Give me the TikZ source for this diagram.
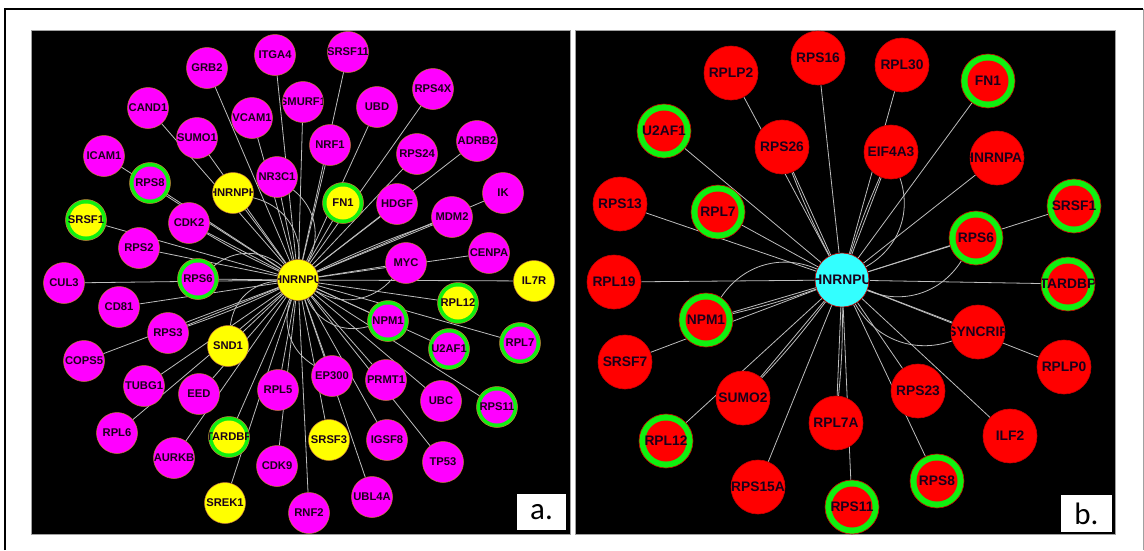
\documentclass[tikz,border=0pt]{standalone}
\usepackage{fontspec}
\setmainfont{Liberation Sans}
\newfontfamily\tagfont{Carlito}
\pgfdeclarelayer{panel}
\pgfdeclarelayer{wires}
\pgfsetlayers{panel,wires,main}

\definecolor{magA}{HTML}{FF00FF}
\definecolor{yelA}{HTML}{FFFF00}
\definecolor{ringG}{HTML}{10F010}
\definecolor{rimA}{HTML}{C87A3C}
\definecolor{redB}{HTML}{FF0000}
\definecolor{rimB}{HTML}{CC0000}
\definecolor{cyanB}{HTML}{33FFFF}
\definecolor{wire}{HTML}{BDBDBD}
\definecolor{ink}{HTML}{1A001A}
\definecolor{frameG}{HTML}{A0A0A0}

\tikzset{
  nodeA/.style={circle, minimum size=41pt, inner sep=0pt, draw=rimA, line width=0.5pt},
  labA/.style={font=\bfseries\fontsize{11.2}{12}\selectfont, text=ink, inner sep=0pt},
  nodeB/.style={circle, minimum size=54pt, inner sep=0pt, draw=rimB, line width=0.6pt},
  labB/.style={font=\bfseries\fontsize{13.8}{15}\selectfont, text=ink, inner sep=0pt},
  wire/.style={draw=wire, line width=0.8pt},
  tagbox/.style={fill=white, inner sep=0pt, font=\tagfont\fontsize{31}{31}\selectfont},
}

% gene node of the left network: name, x, y, outer colour, inner colour, label
\newcommand\geneA[6]{\node[nodeA, fill=#4, path picture={
    \fill[#5] (path picture bounding box.center) circle (16.5pt);
    \node[labA] at (path picture bounding box.center) {#6};}] (#1) at (#2,#3) {};}
% gene node of the right network
\newcommand\geneB[6]{\node[nodeB, fill=#4, path picture={
    \fill[#5] (path picture bounding box.center) circle (20.5pt);
    \node[labB] at (path picture bounding box.center) {#6};}] (#1) at (#2,#3) {};}

\begin{document}
\begin{tikzpicture}[x=1pt, y=-1pt]
\useasboundingbox (0,0) rectangle (1144,550);

% outer frame
\draw[line width=2.2pt, black] (5,550) -- (5,9) -- (1143,9);
\draw[line width=1pt, frameG] (1143,9) -- (1143,550);

% panel backgrounds
\begin{pgfonlayer}{panel}
  \fill[black] (31,30) rectangle (570,534);
  \draw[frameG, line width=0.6pt] (31,30) rectangle (570,534);
  \fill[black] (575,30) rectangle (1115,534);
  \draw[frameG, line width=0.6pt] (575,30) rectangle (1115,534);
\end{pgfonlayer}

% ---------------- network a ----------------
\geneA{aHNRNPU}{298}{280}{yelA}{yelA}{HNRNPU}
\geneA{aGRB2}{207}{68}{magA}{magA}{GRB2}
\geneA{aITGA4}{275}{55}{magA}{magA}{ITGA4}
\geneA{aSRSF11}{348}{52}{magA}{magA}{SRSF11}
\geneA{aCAND1}{148}{108}{magA}{magA}{CAND1}
\geneA{aSMURF1}{303}{102}{magA}{magA}{SMURF1}
\geneA{aUBD}{377}{107}{magA}{magA}{UBD}
\geneA{aRPS4X}{433}{89}{magA}{magA}{RPS4X}
\geneA{aSUMO1}{197}{138}{magA}{magA}{SUMO1}
\geneA{aVCAM1}{252}{118}{magA}{magA}{VCAM1}
\geneA{aNRF1}{330}{145}{magA}{magA}{NRF1}
\geneA{aRPS24}{417}{154}{magA}{magA}{RPS24}
\geneA{aADRB2}{477}{141}{magA}{magA}{ADRB2}
\geneA{aICAM1}{104}{156}{magA}{magA}{ICAM1}
\geneA{aRPS8}{150}{183}{ringG}{magA}{RPS8}
\geneA{aHNRNPH}{233}{193}{yelA}{yelA}{HNRNPH}
\geneA{aNR3C1}{277}{177}{magA}{magA}{NR3C1}
\geneA{aFN1}{343}{203}{ringG}{yelA}{FN1}
\geneA{aHDGF}{397}{204}{magA}{magA}{HDGF}
\geneA{aMDM2}{452}{217}{magA}{magA}{MDM2}
\geneA{aIK}{503}{193}{magA}{magA}{IK}
\geneA{aSRSF1}{86}{220}{ringG}{yelA}{SRSF1}
\geneA{aCDK2}{189}{223}{magA}{magA}{CDK2}
\geneA{aRPS2}{139}{248}{magA}{magA}{RPS2}
\geneA{aCENPA}{489}{253}{magA}{magA}{CENPA}
\geneA{aMYC}{406}{263}{magA}{magA}{MYC}
\geneA{aCUL3}{64}{283}{magA}{magA}{CUL3}
\geneA{aRPS6}{198}{279}{ringG}{magA}{RPS6}
\geneA{aIL7R}{534}{281}{yelA}{yelA}{IL7R}
\geneA{aRPL12}{458}{303}{ringG}{yelA}{RPL12}
\geneA{aCD81}{119}{307}{magA}{magA}{CD81}
\geneA{aNPM1}{388}{321}{ringG}{magA}{NPM1}
\geneA{aRPS3}{168}{333}{magA}{magA}{RPS3}
\geneA{aSND1}{228}{346}{yelA}{yelA}{SND1}
\geneA{aU2AF1}{449}{349}{ringG}{magA}{U2AF1}
\geneA{aRPL7}{520}{343}{ringG}{magA}{RPL7}
\geneA{aCOPS5}{84}{361}{magA}{magA}{COPS5}
\geneA{aTUBG1}{144}{386}{magA}{magA}{TUBG1}
\geneA{aEED}{199}{394}{magA}{magA}{EED}
\geneA{aRPL5}{278}{390}{magA}{magA}{RPL5}
\geneA{aEP300}{332}{376}{magA}{magA}{EP300}
\geneA{aPRMT1}{386}{380}{magA}{magA}{PRMT1}
\geneA{aUBC}{441}{401}{magA}{magA}{UBC}
\geneA{aRPS11}{497}{407}{ringG}{magA}{RPS11}
\geneA{aRPL6}{117}{433}{magA}{magA}{RPL6}
\geneA{aTARDBP}{229}{437}{ringG}{yelA}{TARDBP}
\geneA{aSRSF3}{329}{440}{yelA}{yelA}{SRSF3}
\geneA{aIGSF8}{387}{440}{magA}{magA}{IGSF8}
\geneA{aAURKB}{174}{458}{magA}{magA}{AURKB}
\geneA{aCDK9}{277}{466}{magA}{magA}{CDK9}
\geneA{aTP53}{443}{462}{magA}{magA}{TP53}
\geneA{aUBL4A}{372}{497}{magA}{magA}{UBL4A}
\geneA{aSREK1}{225}{503}{yelA}{yelA}{SREK1}
\geneA{aRNF2}{309}{513}{magA}{magA}{RNF2}

\begin{pgfonlayer}{wires}
  \foreach \g in {GRB2,ITGA4,SRSF11,CAND1,SMURF1,UBD,RPS4X,SUMO1,VCAM1,NRF1,
      RPS24,ADRB2,ICAM1,RPS8,HNRNPH,NR3C1,FN1,HDGF,MDM2,IK,SRSF1,CDK2,RPS2,
      CENPA,MYC,CUL3,RPS6,IL7R,RPL12,CD81,NPM1,RPS3,SND1,U2AF1,RPL7,COPS5,
      TUBG1,EED,RPL5,EP300,PRMT1,UBC,RPS11,RPL6,TARDBP,SRSF3,IGSF8,AURKB,
      CDK9,TP53,UBL4A,SREK1,RNF2}
    \draw[wire] (aHNRNPU) -- (a\g);
  \foreach \g in {RPS6,HNRNPH,NR3C1,SND1,MYC,NPM1,EP300}
    \draw[wire] (aHNRNPU) to[bend right=40] (a\g);
  \foreach \g in {RPS3,MDM2,CDK2}
    \draw[wire] (aHNRNPU) to[bend left=3] (a\g);
\end{pgfonlayer}

\node[tagbox, minimum width=49pt, minimum height=36pt] (tagA) at (541.5,512) {a.};

% ---------------- network b ----------------
\geneB{bHNRNPU}{842}{280}{cyanB}{cyanB}{HNRNPU}
\geneB{bRPLP2}{731}{73}{redB}{redB}{RPLP2}
\geneB{bRPS16}{818}{58}{redB}{redB}{RPS16}
\geneB{bRPL30}{902}{65}{redB}{redB}{RPL30}
\geneB{bFN1}{988}{81}{ringG}{redB}{FN1}
\geneB{bU2AF1}{664}{131}{ringG}{redB}{U2AF1}
\geneB{bRPS26}{782}{147}{redB}{redB}{RPS26}
\geneB{bEIF4A3}{891}{152}{redB}{redB}{EIF4A3}
\geneB{bHNRNPA1}{997}{158}{redB}{redB}{HNRNPA1}
\geneB{bRPS13}{620}{204}{redB}{redB}{RPS13}
\geneB{bRPL7}{718}{212}{ringG}{redB}{RPL7}
\geneB{bSRSF1}{1074}{206}{ringG}{redB}{SRSF1}
\geneB{bRPS6}{976}{238}{ringG}{redB}{RPS6}
\geneB{bRPL19}{614}{282}{redB}{redB}{RPL19}
\geneB{bTARDBP}{1068}{284}{ringG}{redB}{TARDBP}
\geneB{bNPM1}{706}{320}{ringG}{redB}{NPM1}
\geneB{bSYNCRIP}{978}{332}{redB}{redB}{SYNCRIP}
\geneB{bSRSF7}{625}{362}{redB}{redB}{SRSF7}
\geneB{bRPLP0}{1064}{367}{redB}{redB}{RPLP0}
\geneB{bRPS23}{918}{391}{redB}{redB}{RPS23}
\geneB{bSUMO2}{743}{398}{redB}{redB}{SUMO2}
\geneB{bRPL7A}{836}{423}{redB}{redB}{RPL7A}
\geneB{bILF2}{1010}{436}{redB}{redB}{ILF2}
\geneB{bRPL12}{666}{441}{ringG}{redB}{RPL12}
\geneB{bRPS8}{937}{481}{ringG}{redB}{RPS8}
\geneB{bRPS15A}{758}{487}{redB}{redB}{RPS15A}
\geneB{bRPS11}{852}{507}{ringG}{redB}{RPS11}

\begin{pgfonlayer}{wires}
  \foreach \g in {RPLP2,RPS16,RPL30,FN1,U2AF1,RPS26,EIF4A3,HNRNPA1,RPS13,RPL7,
      SRSF1,RPS6,RPL19,TARDBP,NPM1,SYNCRIP,SRSF7,RPLP0,RPS23,SUMO2,RPL7A,
      ILF2,RPL12,RPS8,RPS15A,RPS11}
    \draw[wire] (bHNRNPU) -- (b\g);
  \foreach \g in {NPM1,SYNCRIP,RPS6,EIF4A3}
    \draw[wire] (bHNRNPU) to[bend right=40] (b\g);
  \foreach \g in {RPS26,NPM1,RPL7A,EIF4A3,SUMO2}
    \draw[wire] (bHNRNPU) to[bend left=3] (b\g);
\end{pgfonlayer}

\node[tagbox, minimum width=51pt, minimum height=37pt] (tagB) at (1086.5,513.5) {b.};
\end{tikzpicture}
\end{document}
